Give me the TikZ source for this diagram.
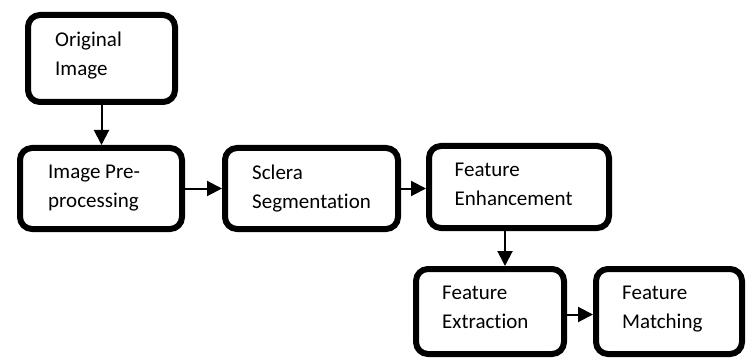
\documentclass[tikz,border=0pt]{standalone}
\usepackage{fontspec}
\setmainfont{Carlito}[Ligatures=NoCommon]
\usetikzlibrary{arrows.meta}

\tikzset{
    blk/.style={draw, line width=6pt, rounded corners=12pt, inner sep=0pt},
    lbl/.style={anchor=north west, inner sep=0pt, align=left,
        font=\fontsize{21}{28.5}\selectfont,
        execute at begin node={\rule{0pt}{20pt}}},
    arr/.style={line width=2pt, -{Triangle[length=15pt,width=15pt]}},
}

\begin{document}
\begin{tikzpicture}[x=1pt,y=-1pt]
        \useasboundingbox (0,0) rectangle (751,358);
        %% Blocks
        \node[blk, minimum width=147pt, minimum height=87pt] (orig) at (101.5,58.5) {};
        \node[blk, minimum width=162pt, minimum height=81pt] (pre) at (101,188.5) {};
        \node[blk, minimum width=173pt, minimum height=81pt] (scl) at (311.5,188.5) {};
        \node[blk, minimum width=180pt, minimum height=82pt] (enh) at (519,187) {};
        \node[blk, minimum width=148pt, minimum height=85pt] (ext) at (490,311.5) {};
        \node[blk, minimum width=146pt, minimum height=85pt] (mat) at (669,311.5) {};
        %% Labels
        \node[lbl] (origtxt) at ([shift={(30pt,-20pt)}]orig.north west) {Original\\Image};
        \node[lbl] (pretxt) at ([shift={(31pt,-20pt)}]pre.north west) {Image Pre-\\processing};
        \node[lbl] (scltxt) at ([shift={(30pt,-20pt)}]scl.north west) {Sclera\\Segmentation};
        \node[lbl] (enhtxt) at ([shift={(28.5pt,-20pt)}]enh.north west) {Feature\\Enhancement};
        \node[lbl] (exttxt) at ([shift={(29pt,-20pt)}]ext.north west) {Feature\\Extraction};
        \node[lbl] (mattxt) at ([shift={(29pt,-20pt)}]mat.north west) {Feature\\Matching};
        %% Arrows
        \draw[arr] (orig.south) -- (orig.south |- pre.north);
        \draw[arr] (pre.east) -- (pre.east -| scl.west);
        \draw[arr] (scl.east) -- (scl.east -| enh.west);
        \draw[arr] ([xshift=-14pt]enh.south) -- ([xshift=-14pt]enh.south |- ext.north);
        \draw[arr] ([yshift=-3pt]ext.east) -- ([yshift=-3pt]ext.east -| mat.west);
    \end{tikzpicture}
\end{document}
